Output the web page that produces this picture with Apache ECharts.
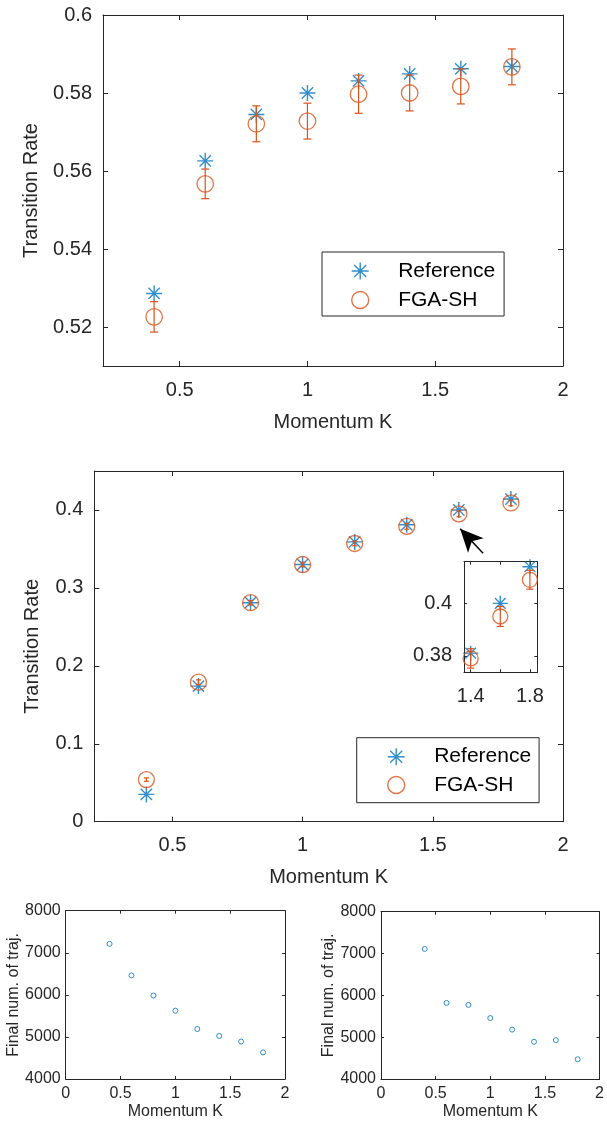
<!DOCTYPE html>
<html>
<head>
<meta charset="utf-8">
<script src="https://cdn.jsdelivr.net/npm/echarts@6/dist/echarts.min.js"></script>
<style>
html,body{margin:0;padding:0;background:#fff;}
#c{width:607px;height:1121px;}
</style>
</head>
<body>
<div id="c"></div>
<script>
// ---------------- data ----------------
const K = [0.4, 0.6, 0.8, 1.0, 1.2, 1.4, 1.6, 1.8];

// top panel
const topRef = [0.5286, 0.5626, 0.5745, 0.5800, 0.5831, 0.5849, 0.5862, 0.5868];
const topFga = [0.5226, 0.5567, 0.5721, 0.5728, 0.5797, 0.5800, 0.5817, 0.5867];
const topErr = [0.0039, 0.0038, 0.0046, 0.0046, 0.0049, 0.0046, 0.0045, 0.0046];

// middle panel
const midRef = [0.035, 0.174, 0.281, 0.330, 0.359, 0.381, 0.400, 0.414];
const midFga = [0.054, 0.179, 0.281, 0.330, 0.357, 0.379, 0.395, 0.409];
const midErr = [0.0022, 0.003, 0.003, 0.003, 0.003, 0.0037, 0.0038, 0.0036];

// bottom panels
const botLeft = [7211, 6462, 5984, 5624, 5188, 5023, 4890, 4632];
const botRight = [7110, 5819, 5772, 5457, 5181, 4890, 4929, 4472];

// tick values
const topXTicks = [0.5, 1, 1.5, 2];
const topYTicks = [0.52, 0.54, 0.56, 0.58, 0.6];
const midYTicks = [0, 0.1, 0.2, 0.3, 0.4];
const insetXTicks = [1.4, 1.6, 1.8];
const insetXLabels = [1.4, 1.8];
const insetYTicks = [0.38, 0.4];
const botXTicks = [0, 0.5, 1, 1.5, 2];
const botYTicks = [4000, 5000, 6000, 7000, 8000];

// annotation arrow (data coordinates of middle panel)
const arrowFrom = [1.693, 0.3445];
const arrowTo = [1.605, 0.376];

// ---------------- style ----------------
const BLUE = '#0072BD', ORANGE = '#D95319', AX = '#262626';
const FONT = "'Liberation Sans', Arial, Helvetica, sans-serif";
const STAR = 'path://M0,-10L0,10M-10,0L10,0M-7.07,-7.07L7.07,7.07M-7.07,7.07L7.07,-7.07';

function fmt(v) { return String(Math.round(v * 10000) / 10000); }

function axis(gi, min, max, ticks, labels, o) {
  return {
    type: 'value', gridIndex: gi, min: min, max: max, position: o.pos,
    name: o.name || '', nameLocation: 'middle', nameGap: o.nameGap || 0,
    nameTextStyle: { fontSize: o.nameSize || 20, color: AX, fontFamily: FONT },
    axisLine: { show: true, onZero: false, lineStyle: { color: AX, width: 1 } },
    axisTick: { show: true, inside: true, length: o.tickLen, customValues: ticks, lineStyle: { color: AX, width: 1 } },
    axisLabel: { show: !!labels, customValues: labels || [], margin: o.margin || 8, fontSize: o.fontSize || 20,
      color: AX, fontFamily: FONT, formatter: fmt },
    splitLine: { show: false }
  };
}

function errSeries(xi, yi, xs, ys, es, cap) {
  return {
    type: 'custom', xAxisIndex: xi, yAxisIndex: yi, silent: true, z: 4, clip: false,
    data: xs.map((x, i) => [x, ys[i] - es[i], ys[i] + es[i]]),
    encode: { x: 0, y: [1, 2] },
    renderItem: function (params, api) {
      const x = api.value(0);
      const p1 = api.coord([x, api.value(1)]);
      const p2 = api.coord([x, api.value(2)]);
      const st = { stroke: ORANGE, lineWidth: 1.2 };
      return {
        type: 'group', children: [
          { type: 'line', shape: { x1: p1[0], y1: p1[1], x2: p2[0], y2: p2[1] }, style: st },
          { type: 'line', shape: { x1: p1[0] - cap / 2, y1: p1[1], x2: p1[0] + cap / 2, y2: p1[1] }, style: st },
          { type: 'line', shape: { x1: p2[0] - cap / 2, y1: p2[1], x2: p2[0] + cap / 2, y2: p2[1] }, style: st }
        ]
      };
    }
  };
}

function starSeries(xi, yi, xs, ys, size, extra) {
  return Object.assign({
    type: 'scatter', name: 'Reference', xAxisIndex: xi, yAxisIndex: yi, clip: false, z: 2,
    symbol: STAR, symbolSize: size, emphasis: { disabled: true },
    itemStyle: { color: 'transparent', borderColor: BLUE, borderWidth: 1.4 },
    data: xs.map((x, i) => [x, ys[i]])
  }, extra || {});
}
function circSeries(xi, yi, xs, ys, size, color, name, bw) {
  return {
    type: 'scatter', name: name, xAxisIndex: xi, yAxisIndex: yi, clip: false, z: 3,
    symbol: 'circle', symbolSize: size, emphasis: { disabled: true },
    itemStyle: { color: 'transparent', borderColor: color, borderWidth: bw },
    data: xs.map((x, i) => [x, ys[i]])
  };
}

function legendAt(left, top, pad, gap) {
  return {
    left: left, top: top, orient: 'vertical', padding: pad, itemGap: gap,
    itemWidth: 66, itemHeight: 17, selectedMode: false,
    borderColor: AX, borderWidth: 1, backgroundColor: '#fff',
    textStyle: { fontSize: 21, color: '#000', fontFamily: FONT, lineHeight: 22 },
    data: [
      { name: 'Reference', icon: STAR, itemStyle: { color: 'transparent', borderColor: BLUE, borderWidth: 1.4 } },
      { name: 'FGA-SH', icon: 'circle', itemStyle: { color: 'transparent', borderColor: ORANGE, borderWidth: 1.4 } }
    ]
  };
}

// inset subset
const insetIdx = K.map((k, i) => i).filter(i => K[i] >= 1.4);
const insK = insetIdx.map(i => K[i]);
const insRef = insetIdx.map(i => midRef[i]);
const insFga = insetIdx.map(i => midFga[i]);
const insErr = insetIdx.map(i => midErr[i]);

const option = {
  animation: false,
  backgroundColor: '#fff',
  grid: [
    { left: 103, top: 15, width: 460, height: 351 },
    { left: 94.3, top: 471, width: 468.7, height: 350.7 },
    { left: 464, top: 561.7, width: 73.3, height: 110.6 },
    { left: 65.7, top: 910.7, width: 219.3, height: 170.3 },
    { left: 381, top: 911.7, width: 220.7, height: 169.3 }
  ],
  xAxis: [
    axis(0, 0.2, 2, topXTicks, topXTicks, { pos: 'bottom', tickLen: 5, margin: 14, name: 'Momentum K', nameGap: 46 }),
    axis(0, 0.2, 2, topXTicks, null, { pos: 'top', tickLen: 5 }),
    axis(1, 0.2, 2, topXTicks, topXTicks, { pos: 'bottom', tickLen: 5, margin: 14, name: 'Momentum K', nameGap: 46 }),
    axis(1, 0.2, 2, topXTicks, null, { pos: 'top', tickLen: 5 }),
    axis(2, 1.355, 1.85, insetXTicks, insetXLabels, { pos: 'bottom', tickLen: 3, margin: 14 }),
    axis(2, 1.355, 1.85, insetXTicks, null, { pos: 'top', tickLen: 3 }),
    axis(3, 0, 2, botXTicks, botXTicks, { pos: 'bottom', tickLen: 3, margin: 7, fontSize: 16, name: 'Momentum K', nameGap: 25, nameSize: 16 }),
    axis(3, 0, 2, botXTicks, null, { pos: 'top', tickLen: 3 }),
    axis(4, 0, 2, botXTicks, botXTicks, { pos: 'bottom', tickLen: 3, margin: 7, fontSize: 16, name: 'Momentum K', nameGap: 25, nameSize: 16 }),
    axis(4, 0, 2, botXTicks, null, { pos: 'top', tickLen: 3 })
  ],
  yAxis: [
    axis(0, 0.51, 0.6, topYTicks, topYTicks, { pos: 'left', tickLen: 5, margin: 11, name: 'Transition Rate', nameGap: 62 }),
    axis(0, 0.51, 0.6, topYTicks, null, { pos: 'right', tickLen: 5 }),
    axis(1, 0, 0.45, midYTicks, midYTicks, { pos: 'left', tickLen: 5, margin: 11, name: 'Transition Rate', nameGap: 52 }),
    axis(1, 0, 0.45, midYTicks, null, { pos: 'right', tickLen: 5 }),
    axis(2, 0.3737, 0.4159, insetYTicks, insetYTicks, { pos: 'left', tickLen: 3, margin: 12 }),
    axis(2, 0.3737, 0.4159, insetYTicks, null, { pos: 'right', tickLen: 3 }),
    axis(3, 4000, 8000, botYTicks, botYTicks, { pos: 'left', tickLen: 3, margin: 5, fontSize: 16, name: 'Final num. of traj.', nameGap: 41, nameSize: 16 }),
    axis(3, 4000, 8000, botYTicks, null, { pos: 'right', tickLen: 3 }),
    axis(4, 4000, 8000, botYTicks, botYTicks, { pos: 'left', tickLen: 3, margin: 5, fontSize: 16, name: 'Final num. of traj.', nameGap: 40, nameSize: 16 }),
    axis(4, 4000, 8000, botYTicks, null, { pos: 'right', tickLen: 3 })
  ],
  legend: [
    legendAt(322, 252, [8, 9, 5, 29], 7),
    legendAt(356.7, 737.7, [8, 8, 6.7, 30.3], 6.3)
  ],
  series: [
    // top
    starSeries(0, 0, K, topRef, 16),
    circSeries(0, 0, K, topFga, 16.5, ORANGE, 'FGA-SH', 1.3),
    errSeries(0, 0, K, topFga, topErr, 8),
    // middle
    starSeries(2, 2, K, midRef, 16, {
      markLine: {
        silent: true, symbol: ['none', 'arrow'], symbolSize: [16, 23],
        lineStyle: { color: '#000', width: 1.5, type: 'solid' },
        label: { show: false }, emphasis: { disabled: true },
        data: [[{ coord: arrowFrom }, { coord: arrowTo }]]
      }
    }),
    circSeries(2, 2, K, midFga, 16, ORANGE, 'FGA-SH', 1.3),
    errSeries(2, 2, K, midFga, midErr, 5),
    // inset
    starSeries(4, 4, insK, insRef, 15),
    circSeries(4, 4, insK, insFga, 15, ORANGE, 'FGA-SH', 1.3),
    errSeries(4, 4, insK, insFga, insErr, 7),
    // bottom
    circSeries(6, 6, K, botLeft, 5, BLUE, 'left', 1),
    circSeries(8, 8, K, botRight, 5, BLUE, 'right', 1)
  ]
};

const chart = echarts.init(document.getElementById('c'), null, { renderer: 'canvas' });
chart.setOption(option);
</script>
</body>
</html>
